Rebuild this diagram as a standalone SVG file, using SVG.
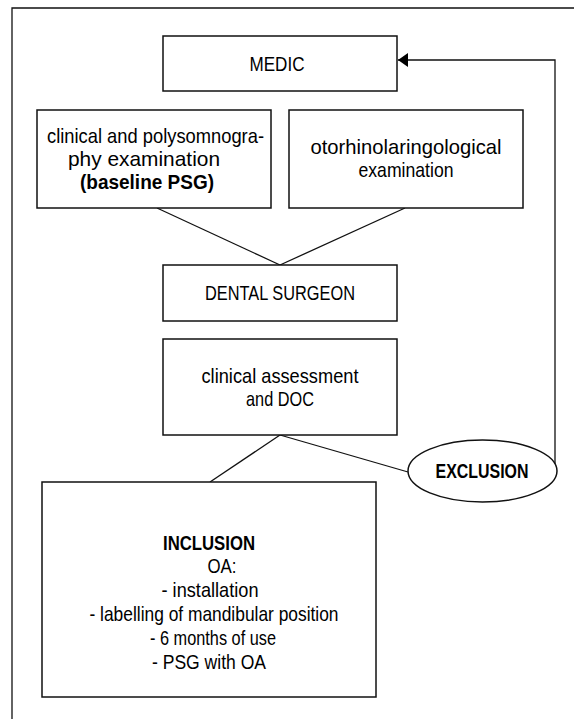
<svg xmlns="http://www.w3.org/2000/svg" width="574" height="719" viewBox="0 0 574 719">
<defs>
<style>
.box{fill:#fff;stroke:#111;stroke-width:1.5}
.ln{fill:none;stroke:#111;stroke-width:1.3}
text{font-family:"Liberation Sans Narrow","Liberation Sans",Arial,sans-serif;font-size:21px;fill:#000}
.c{text-anchor:middle}
.b{font-weight:bold}
</style>
<marker id="arr" markerWidth="10" markerHeight="14" refX="10" refY="7" orient="auto" markerUnits="userSpaceOnUse">
<path d="M0,0 L10,7 L0,14 Z" fill="#000"/>
</marker>
</defs>
<rect width="574" height="719" fill="#fff"/>
<path class="ln" d="M12,719 V8 H574" stroke-width="1.5"/>
<g id="connectors">
<line class="ln" x1="157" y1="208" x2="280" y2="265"/>
<line class="ln" x1="405" y1="208" x2="280" y2="265"/>
<line class="ln" x1="280" y1="435" x2="210" y2="482"/>
<line class="ln" x1="280" y1="435" x2="408" y2="472"/>
<path class="ln" d="M555,464 V60 H398" marker-end="url(#arr)"/>
</g>
<g id="medic">
<rect class="box" x="163" y="36" width="234" height="55"/>
<text class="c" x="277" y="71" textLength="55" lengthAdjust="spacingAndGlyphs">MEDIC</text>
</g>
<g id="clinical-psg">
<rect class="box" x="37" y="110" width="234" height="98"/>
<text x="47" y="143" textLength="217" lengthAdjust="spacingAndGlyphs">clinical and polysomnogra-</text>
<text x="68" y="166" textLength="152" lengthAdjust="spacingAndGlyphs">phy examination</text>
<text class="b" x="80" y="189" textLength="134" lengthAdjust="spacingAndGlyphs">(baseline PSG)</text>
</g>
<g id="orl">
<rect class="box" x="289" y="110" width="234" height="98"/>
<text class="c" x="406" y="154" textLength="191" lengthAdjust="spacingAndGlyphs">otorhinolaringological</text>
<text class="c" x="406" y="177" textLength="95" lengthAdjust="spacingAndGlyphs">examination</text>
</g>
<g id="dental-surgeon">
<rect class="box" x="163" y="265" width="234" height="56"/>
<text class="c" x="280" y="300" textLength="150" lengthAdjust="spacingAndGlyphs">DENTAL SURGEON</text>
</g>
<g id="assessment">
<rect class="box" x="163" y="339" width="234" height="96"/>
<text class="c" x="280" y="383" textLength="157" lengthAdjust="spacingAndGlyphs">clinical assessment</text>
<text class="c" x="280" y="406" textLength="68" lengthAdjust="spacingAndGlyphs">and DOC</text>
</g>
<g id="exclusion">
<ellipse class="box" cx="482.5" cy="471" rx="74.5" ry="31"/>
<text class="c b" x="482" y="478" textLength="93" lengthAdjust="spacingAndGlyphs">EXCLUSION</text>
</g>
<g id="inclusion">
<rect class="box" x="42" y="482" width="334" height="215"/>
<text class="c b" x="209" y="550" textLength="92" lengthAdjust="spacingAndGlyphs">INCLUSION</text>
<text class="c" x="222" y="573" textLength="29" lengthAdjust="spacingAndGlyphs">OA:</text>
<text class="c" x="210" y="597" textLength="97" lengthAdjust="spacingAndGlyphs">- installation</text>
<text class="c" x="214" y="621" textLength="249" lengthAdjust="spacingAndGlyphs">- labelling of mandibular position</text>
<text class="c" x="213" y="645" textLength="126" lengthAdjust="spacingAndGlyphs">- 6 months of use</text>
<text class="c" x="209" y="669" textLength="114" lengthAdjust="spacingAndGlyphs">- PSG with OA</text>
</g>
</svg>
